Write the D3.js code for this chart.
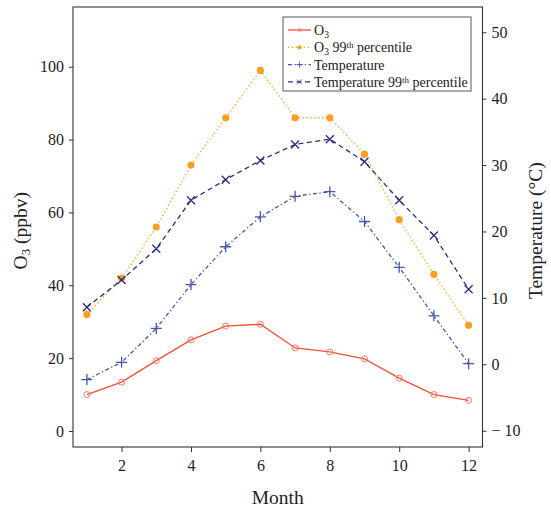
<!DOCTYPE html>
<html>
<head>
<meta charset="utf-8">
<script src="https://cdn.jsdelivr.net/npm/d3@7"></script>
<style>
  html, body { margin: 0; padding: 0; background: #fff; }
  svg, svg text { font-family: "Liberation Serif", "Times New Roman", serif; }
</style>
</head>
<body>
<svg id="chart" width="551" height="510"></svg>
<script>
// Monthly ozone and temperature climatology
const months = [1, 2, 3, 4, 5, 6, 7, 8, 9, 10, 11, 12];
const o3Mean = [10, 13.4, 19.3, 25, 28.8, 29.3, 22.8, 21.7, 19.8, 14.5, 10, 8.4];
const o3P99 = [32, 42, 56, 73, 86, 99, 86, 86, 76, 58, 43, 29];
const tempMean = [-2.3, 0.3, 5.4, 12.0, 17.7, 22.2, 25.3, 26.0, 21.5, 14.6, 7.3, 0.1];
const tempP99 = [8.6, 12.7, 17.4, 24.7, 27.8, 30.7, 33.1, 33.9, 30.5, 24.7, 19.4, 11.3];

const xTicks = [2, 4, 6, 8, 10, 12];
const o3Ticks = [0, 20, 40, 60, 80, 100];
const tempTicks = [-10, 0, 10, 20, 30, 40, 50];

const FONT = "'Liberation Serif', 'Times New Roman', serif";
const svg = d3.select("#chart");
const box = { left: 73, right: 482.5, top: 7, bottom: 447 };

const x = d3.scaleLinear().domain([0.6, 12.4]).range([box.left, box.right]);
const yL = d3.scaleLinear().domain([-4.4, 116.4]).range([box.bottom, box.top]);
const yR = d3.scaleLinear().domain([-12.45, 53.8]).range([box.bottom, box.top]);

const axisColor = "#333";
const tickFont = 16;

// Axes
const gx = svg.append("g").attr("transform", `translate(0,${box.bottom})`)
  .call(d3.axisBottom(x).tickValues(xTicks).tickSize(5).tickPadding(8).tickFormat(d3.format("d")));
const gl = svg.append("g").attr("transform", `translate(${box.left},0)`)
  .call(d3.axisLeft(yL).tickValues(o3Ticks).tickSize(4).tickPadding(5).tickFormat(d3.format("d")));
const gr = svg.append("g").attr("transform", `translate(${box.right},0)`)
  .call(d3.axisRight(yR).tickValues(tempTicks).tickSize(4).tickPadding(5)
    .tickFormat(d => d < 0 ? "\u2212 " + Math.abs(d) : String(d)));

[gx, gl, gr].forEach(g => {
  g.attr("font-family", FONT).attr("font-size", tickFont);
  g.select(".domain").remove();
  g.selectAll("line").attr("stroke", axisColor).attr("stroke-width", 1);
  g.selectAll("text").attr("fill", "#222").attr("font-family", FONT).attr("font-size", tickFont);
});

// Frame
svg.append("rect")
  .attr("x", box.left).attr("y", box.top)
  .attr("width", box.right - box.left).attr("height", box.bottom - box.top)
  .attr("fill", "none").attr("stroke", axisColor).attr("stroke-width", 1.1);

// Series definitions
const series = [
  { name: "o3", values: o3Mean, y: yL, color: "#ef4f38", dash: null, marker: "ocircle" },
  { name: "o3p99", values: o3P99, y: yL, color: "#f7a021", dash: "1.3,2.6", marker: "fcircle" },
  { name: "temp", values: tempMean, y: yR, color: "#4655ad", dash: "4,2.5,1.3,2.5", marker: "plus" },
  { name: "tempP99", values: tempP99, y: yR, color: "#2e2d7c", dash: "5,3.5", marker: "cross" }
];

function drawMarker(g, type, color) {
  if (type === "ocircle") {
    g.append("circle").attr("r", 3).attr("fill", "none").attr("stroke", "#f27a66").attr("stroke-width", 1);
  } else if (type === "fcircle") {
    g.append("circle").attr("r", 3.6).attr("fill", color);
  } else if (type === "plus") {
    g.append("path").attr("d", "M-5.5,0H5.5M0,-5.5V5.5").attr("stroke", color).attr("stroke-width", 1.3);
  } else if (type === "cross") {
    g.append("path").attr("d", "M-4,-4L4,4M-4,4L4,-4").attr("stroke", color).attr("stroke-width", 1.3);
  }
}

series.forEach(s => {
  const pts = months.map((m, i) => [m, s.values[i]]);
  const line = d3.line().x(d => x(d[0])).y(d => s.y(d[1]));
  svg.append("path").datum(pts)
    .attr("d", line).attr("fill", "none")
    .attr("stroke", s.color).attr("stroke-width", 1.3)
    .attr("stroke-dasharray", s.dash);
  svg.append("g").selectAll("g").data(pts).join("g")
    .attr("transform", d => `translate(${x(d[0])},${s.y(d[1])})`)
    .each(function () { drawMarker(d3.select(this), s.marker, s.color); });
});

// Axis titles
svg.append("text").attr("x", x(6.5)).attr("y", 504)
  .attr("text-anchor", "middle").attr("font-family", FONT).attr("font-size", 19.5)
  .attr("fill", "#222").text("Month");

const yl = svg.append("text")
  .attr("transform", `translate(27,${yL(55)}) rotate(-90)`)
  .attr("text-anchor", "middle").attr("font-family", FONT).attr("font-size", 19.5).attr("fill", "#222");
yl.append("tspan").text("O");
yl.append("tspan").attr("baseline-shift", "-25%").attr("font-size", 13).text("3");
yl.append("tspan").text(" (ppbv)");

svg.append("text")
  .attr("transform", `translate(542,${yL(55)}) rotate(-90)`)
  .attr("text-anchor", "middle").attr("font-family", FONT).attr("font-size", 19.5).attr("fill", "#222")
  .text("Temperature (\u00B0C)");

// Legend
const legend = svg.append("g");
legend.append("rect").attr("x", 283).attr("y", 17).attr("width", 188).attr("height", 74)
  .attr("fill", "#fff").attr("stroke", "#666").attr("stroke-width", 1.1);

const legendRows = [
  { s: series[0], parts: [["O", 0], ["3", -1]] },
  { s: series[1], parts: [["O", 0], ["3", -1], [" 99", 0], ["th", 1], [" percentile", 0]] },
  { s: series[2], parts: [["Temperature", 0]] },
  { s: series[3], parts: [["Temperature 99", 0], ["th", 1], [" percentile", 0]] }
];

legendRows.forEach((row, i) => {
  const cy = 30 + i * 17.3;
  const g = legend.append("g");
  g.append("line").attr("x1", 288).attr("x2", 311).attr("y1", cy).attr("y2", cy)
    .attr("stroke", row.s.color).attr("stroke-width", 1.3)
    .attr("stroke-dasharray", row.s.dash);
  const mg = g.append("g").attr("transform", `translate(299.5,${cy}) scale(0.6)`);
  drawMarker(mg, row.s.marker, row.s.color);
  const t = g.append("text").attr("x", 314).attr("y", cy + 5)
    .attr("font-family", FONT).attr("font-size", 14).attr("fill", "#222");
  row.parts.forEach(([txt, pos]) => {
    const ts = t.append("tspan").text(txt);
    if (pos === -1) ts.attr("baseline-shift", "-25%").attr("font-size", 9.5);
    if (pos === 1) ts.attr("baseline-shift", "45%").attr("font-size", 9);
  });
});
</script>
</body>
</html>
